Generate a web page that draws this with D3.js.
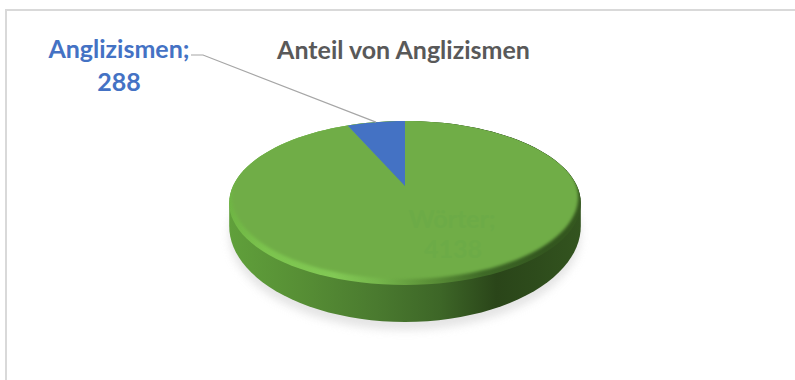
<!DOCTYPE html>
<html lang="de">
<head>
<meta charset="utf-8">
<title>Anteil von Anglizismen</title>
<script src="https://cdn.jsdelivr.net/npm/d3@7/dist/d3.min.js"></script>
<style>
  html, body { margin: 0; padding: 0; background: #fff; }
  svg { display: block; }
  text { font-family: Lato, "Open Sans", sans-serif; font-weight: 700; }
</style>
</head>
<body>
<svg id="chart" width="795" height="380"></svg>
<script>
// Word counts of the text corpus
const categories = ["Wörter", "Anglizismen"];
const wordCounts = [4138, 288];
const sliceColors = ["#70ad47", "#4472c4"];
const labelColors = ["#6cab47", "#4472c4"];
const chartTitle = "Anteil von Anglizismen";

const svg = d3.select("#chart");
const defs = svg.append("defs");

// Slice angles, clockwise from twelve o'clock
const slices = d3.pie().sort(null).value(d => d)(wordCounts);

// Tilted-disc view: maps polar coordinates on the disc to screen space
const view = { cx: 405, cy: 186, radius: 172, rise: 40, tilt: -0.207 };

function project(angle, r = 1) {
  const u = Math.sin(angle) * r;
  const v = -Math.cos(angle) * r;
  const w = 1 + view.tilt * v;
  return [view.cx + view.radius * u / w, (view.cy + view.rise * v) / w];
}

// Underside of the disc: the face outline pushed down and stretched a little
const lower = ([x, y]) => [x, 226 + (y - 203) * 1.17];

const outline = d3.line();
const sweep = (a0, a1) =>
  d3.range(0, 121).map(i => project(a0 + (a1 - a0) * i / 120));
const lift = (pts, dy, sx) => pts.map(([x, y]) => [view.cx + (x - view.cx) * sx, y + dy]);

const ring = sweep(0, 2 * Math.PI);
const facePath = outline(ring) + "Z";
const basePath = outline(ring.map(lower)) + "Z";

// Filters for the soft shadow and the bevel edge
defs.append("filter").attr("id", "soft")
  .attr("x", "-10%").attr("y", "-10%").attr("width", "120%").attr("height", "130%")
  .append("feGaussianBlur").attr("stdDeviation", 4.5);
defs.append("filter").attr("id", "bevel")
  .attr("x", "-5%").attr("y", "-5%").attr("width", "110%").attr("height", "110%")
  .append("feGaussianBlur").attr("stdDeviation", 1.6);

function hGradient(id, stops) {
  const g = defs.append("linearGradient").attr("id", id)
    .attr("gradientUnits", "userSpaceOnUse")
    .attr("x1", 229).attr("x2", 581).attr("y1", 0).attr("y2", 0);
  stops.forEach(([o, c]) => g.append("stop").attr("offset", o).attr("stop-color", c));
}
hGradient("sideFill", [
  [0, "#60a03b"], [0.2, "#578f35"], [0.42, "#4a7a2f"],
  [0.6, "#3d6627"], [0.76, "#2a4519"], [0.88, "#2e4c1c"], [1, "#33541f"]
]);
hGradient("rimFill", [
  [0, "#6fb544"], [0.1, "#7cc44e"], [0.3, "#82c955"], [0.42, "#76b74c"],
  [0.56, "#5d9339"], [0.72, "#3f6a27"], [0.9, "#33561f"], [1, "#35581f"]
]);

// Mask that leaves the rim of the disc showing around the flat face
const mask = defs.append("mask").attr("id", "faceMask")
  .attr("maskUnits", "userSpaceOnUse")
  .attr("x", 0).attr("y", 0).attr("width", 795).attr("height", 380);
mask.append("path")
  .attr("d", outline(lift(ring, -6, 0.985)) + "Z")
  .attr("fill", "#fff").attr("filter", "url(#bevel)");
mask.append("rect").attr("x", 0).attr("y", 60).attr("width", 795).attr("height", 100).attr("fill", "#fff");

defs.append("clipPath").attr("id", "faceClip").append("path").attr("d", facePath);

// Chart frame: only the top and left edges fall inside the view
svg.append("path")
  .attr("d", "M6,380V10H795")
  .attr("fill", "none").attr("stroke", "#d9d9d9").attr("stroke-width", 2);

// Ground shadow
svg.append("path")
  .attr("d", basePath)
  .attr("transform", "translate(0,8)")
  .attr("fill", "#cfcfcf").attr("opacity", 0.55)
  .attr("filter", "url(#soft)");

// Disc wall: the hull of face and underside
const wallPoints = d3.polygonHull(ring.concat(ring.map(lower)));
svg.append("path")
  .attr("d", outline(wallPoints) + "Z")
  .attr("fill", "url(#sideFill)");

// Rim of the disc
svg.append("path").attr("d", facePath).attr("fill", "url(#rimFill)");

// Flat face with one sector per category
svg.append("g")
  .attr("clip-path", "url(#faceClip)")
  .append("g")
  .attr("mask", "url(#faceMask)")
  .selectAll("path")
  .data(slices)
  .join("path")
  .attr("d", d => {
    const steps = Math.max(2, Math.ceil((d.endAngle - d.startAngle) / (Math.PI / 60)));
    const pts = d3.range(steps + 1).map(i =>
      project(d.startAngle + (d.endAngle - d.startAngle) * i / steps));
    return outline([project(0, 0)].concat(pts)) + "Z";
  })
  .attr("fill", (d, i) => sliceColors[i]);

// Title
svg.append("text")
  .attr("x", 403.5).attr("y", 59)
  .attr("text-anchor", "middle")
  .attr("font-size", 25)
  .attr("fill", "#595959")
  .text(chartTitle);

// Faint label sitting on the large sector
const inner = svg.append("g").attr("text-anchor", "middle").attr("font-size", 25).attr("fill", labelColors[0]);
inner.append("text").attr("x", 452).attr("y", 228).text(categories[0] + ";");
inner.append("text").attr("x", 453).attr("y", 258).text(wordCounts[0]);

// Outside label and its leader line, anchored at the middle of the small sector
const small = slices[1];
const tip = project((small.startAngle + small.endAngle) / 2);
svg.append("path")
  .attr("d", d3.line()([[191, 55], [203, 55], tip]))
  .attr("fill", "none").attr("stroke", "#a6a6a6").attr("stroke-width", 1.2);

const outer = svg.append("g").attr("text-anchor", "middle").attr("font-size", 25).attr("fill", labelColors[1]);
outer.append("text").attr("x", 119).attr("y", 58).text(categories[1] + ";");
outer.append("text").attr("x", 119).attr("y", 91).text(wordCounts[1]);
</script>
</body>
</html>
